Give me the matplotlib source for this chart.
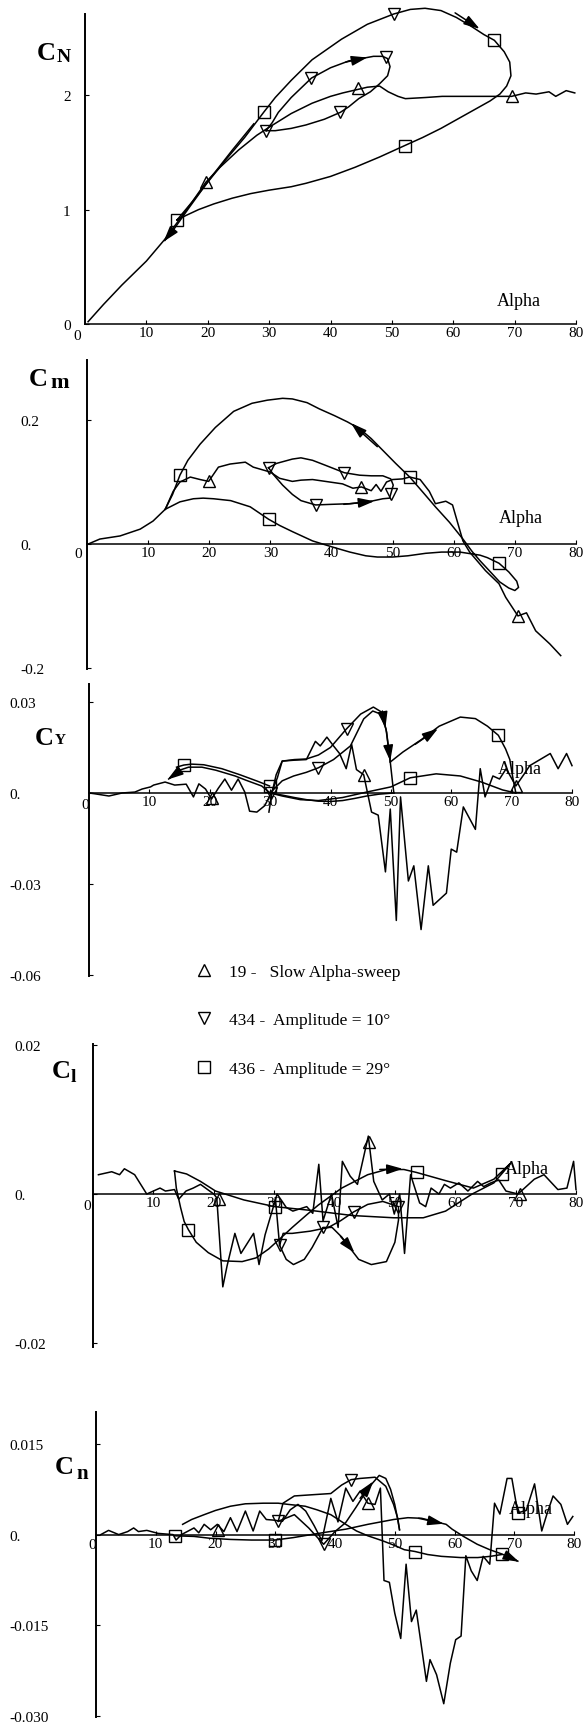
import matplotlib
matplotlib.use("Agg")
import matplotlib.pyplot as plt
from matplotlib.lines import Line2D

plt.rcParams['font.family'] = ['Liberation Serif', 'DejaVu Serif']

# ---------------- data ----------------
alpha_ticks = [10, 20, 30, 40, 50, 60, 70, 80]

# normal force C_N
nf_alpha_19 = [0.5, 3, 6, 10, 13, 15.2, 17.5, 19.7, 22, 25, 28, 30, 33.6, 37, 40, 42, 44.4, 46, 48, 49.4,
               51, 52.2, 55.5, 58.2, 62, 66.4, 69.5, 71.8, 73.5, 75.6, 76.7, 78.4, 79.8]
nf_cn_19 = [0.02, 0.17, 0.34, 0.55, 0.74, 0.9, 1.07, 1.24, 1.37, 1.52, 1.65, 1.72, 1.84, 1.93, 1.99, 2.02, 2.05,
            2.07, 2.08, 2.03, 1.99, 1.97, 1.98, 1.99, 1.99, 1.99, 1.99, 2.02, 2.01, 2.03, 1.99, 2.04, 2.02]
nf_alpha_434 = [29.5, 30.5, 31.5, 33.6, 36.9, 40, 43, 45, 47, 48.5, 49.3, 49.7, 49.3, 48, 46.5, 44.6, 43, 41.6,
                39, 36, 33.6, 31, 29.5]
nf_cn_434 = [1.69, 1.76, 1.85, 1.98, 2.15, 2.24, 2.3, 2.32, 2.34, 2.34, 2.32, 2.25, 2.17, 2.1, 2.03, 1.97, 1.9,
             1.85, 1.79, 1.74, 1.71, 1.69, 1.69]
nf_alpha_436 = [15, 17.5, 20, 23, 26, 29.1, 31, 33.6, 37, 41.8, 46, 50.3, 53, 55.4, 58, 60.5, 63, 65, 66.7, 68.3,
                69.2, 69.4, 68.7, 67.6, 66, 62, 58, 55, 52.1, 48, 44, 40, 36, 33.6, 30, 27, 24, 21, 18.5, 16.5, 15]
nf_cn_436 = [0.91, 1.07, 1.24, 1.44, 1.63, 1.85, 1.98, 2.13, 2.31, 2.49, 2.62, 2.71, 2.75, 2.76, 2.74, 2.68, 2.6,
             2.53, 2.48, 2.38, 2.29, 2.17, 2.08, 2.01, 1.95, 1.83, 1.71, 1.63, 1.56, 1.46, 1.37, 1.29, 1.23, 1.2,
             1.17, 1.14, 1.1, 1.05, 1.0, 0.95, 0.91]
nf_alpha_ret = [27.5, 24, 20.5, 17, 14.5, 13.0]
nf_cn_ret = [1.75, 1.52, 1.28, 1.02, 0.83, 0.73]
nf_tri = ([19.7, 44.4, 69.6], [1.24, 2.06, 1.99])
nf_dtri = ([29.5, 36.9, 49.0, 41.6, 50.3], [1.69, 2.15, 2.33, 1.85, 2.71])
nf_sq = ([15.0, 29.1, 66.7, 52.1], [0.91, 1.85, 2.48, 1.56])
nf_arrows = [((42.5, 2.29), (46.0, 2.33)), ((60.3, 2.72), (64.3, 2.58)), ((14.5, 0.83), (12.8, 0.72))]

# pitching moment C_m
pm_alpha_19 = [0.2, 2.1, 5.4, 8.7, 10.8, 12.8, 14.1, 15.2, 16.9, 18.5, 19.9, 21.5, 23.4, 25.9, 27.2, 30, 31.5,
               33.6, 35, 36.9, 39, 41.8, 43.5, 44.9, 46.5, 47.3, 48.1, 49, 50, 51.6, 52.8, 54.5, 56, 57, 58.7,
               59.8, 61.5, 62.6, 65.2, 67.4, 68.5, 70.5, 71.9, 73.4, 75.7, 77.5]
pm_cm_19 = [0.0, 0.008, 0.013, 0.024, 0.037, 0.056, 0.085, 0.1, 0.108, 0.104, 0.101, 0.124, 0.129, 0.132, 0.124,
            0.116, 0.106, 0.101, 0.103, 0.104, 0.101, 0.097, 0.09, 0.092, 0.086, 0.096, 0.085, 0.1, 0.104, 0.105,
            0.108, 0.104, 0.085, 0.065, 0.069, 0.063, 0.005, -0.013, -0.043, -0.064, -0.086, -0.116, -0.111,
            -0.14, -0.161, -0.18]
pm_alpha_434 = [29.7, 31, 33.6, 35, 36.9, 39, 42.1, 44.6, 46.5, 48.4, 49.7, 50.1, 49.7, 49.5, 48.4, 46, 43, 40,
                37.4, 35, 33.6, 32, 30.5, 29.7]
pm_cm_434 = [0.123, 0.13, 0.137, 0.139, 0.135, 0.127, 0.115, 0.111, 0.11, 0.11, 0.105, 0.095, 0.081, 0.074,
             0.073, 0.068, 0.065, 0.064, 0.063, 0.07, 0.08, 0.095, 0.112, 0.123]
pm_alpha_436 = [12.8, 14, 15.2, 16.5, 18.5, 21, 24, 27, 29.5, 32, 33.6, 36, 38, 40.5, 42.6, 44.6, 46.5, 48.5,
                50.5, 52.8, 55, 57, 59.3, 61.5, 63, 64.3, 66, 67.5, 69, 70, 70.6, 70.3, 69, 67.4, 65.5, 64.3, 61,
                58, 55.4, 52.5, 50, 47.5, 45.6, 43, 40.2, 36.9, 33.6, 31.5, 29.7, 26.7, 23.5, 20.7, 19, 17.4,
                15.2, 14, 12.8]
pm_cm_436 = [0.056, 0.08, 0.111, 0.135, 0.161, 0.188, 0.214, 0.227, 0.232, 0.235, 0.234, 0.228, 0.218, 0.207,
             0.197, 0.186, 0.17, 0.15, 0.13, 0.108, 0.083, 0.06, 0.035, 0.008, -0.012, -0.027, -0.045, -0.061,
             -0.071, -0.075, -0.07, -0.06, -0.045, -0.031, -0.022, -0.018, -0.013, -0.013, -0.015, -0.019,
             -0.021, -0.021, -0.019, -0.013, -0.005, 0.005, 0.02, 0.03, 0.04, 0.06, 0.07, 0.073, 0.074, 0.073,
             0.068, 0.062, 0.056]
pm_tri = ([19.9, 44.9, 70.5], [0.101, 0.092, -0.116])
pm_dtri = ([29.7, 42.1, 49.7, 37.4], [0.123, 0.115, 0.081, 0.063])
pm_sq = ([15.2, 29.7, 52.8, 67.4], [0.111, 0.04, 0.108, -0.031])
pm_arrows = [((47.5, 0.157), (43.2, 0.195)), ((42.0, 0.064), (47.0, 0.069))]

# side force C_Y
sf_alpha_19 = [0.1, 3.3, 5.5, 7.6, 8.8, 10.2, 10.7, 12.6, 14.2, 16.1, 17.3, 18.2, 19.3, 20.3, 21.4, 22.5, 23.6,
               24.7, 25.8, 26.6, 27.8, 29.1, 30.2, 31.2, 32, 34, 36, 37.5, 38.3, 39.4, 40.5, 41.5, 42.6, 43.5,
               44.3, 45.5, 46.8, 47.9, 49.1, 49.9, 50.9, 51.6, 52.9, 53.8, 55, 56.2, 57, 59.2, 60, 60.9, 62, 64,
               64.8, 65.6, 66.9, 68, 69.1, 70.7, 72, 73, 74.7, 76.4, 77.7, 79.1, 80]
sf_cy_19 = [0.0, -0.001, 0.0, 0.0003, 0.0013, 0.002, 0.0026, 0.0036, 0.0026, 0.0029, -0.0013, 0.003, 0.0013,
            -0.002, 0.0015, 0.0046, 0.0009, 0.0046, 0.0003, -0.006, -0.0063, -0.0042, 0.0, 0.005, 0.0105,
            0.0108, 0.011, 0.017, 0.0155, 0.0184, 0.0155, 0.013, 0.008, 0.016, 0.0077, 0.006, -0.0063, -0.0073,
            -0.026, -0.0053, -0.042, -0.0013, -0.029, -0.024, -0.045, -0.024, -0.037, -0.033, -0.0185, -0.0195,
            -0.0046, -0.012, 0.008, -0.0013, 0.0056, 0.0046, 0.008, 0.0023, 0.006, 0.009, 0.011, 0.013, 0.008,
            0.013, 0.009]
sf_alpha_434a = [29.8, 30.3, 31, 32, 34, 36, 38, 40, 42.6, 45, 47.1, 48.5, 48.9, 49.3, 49.6, 49.9]
sf_cy_434a = [-0.0063, 0.0, 0.006, 0.0105, 0.011, 0.0112, 0.0125, 0.015, 0.021, 0.026, 0.0283, 0.0266, 0.0234,
              0.02, 0.015, 0.0102]
sf_alpha_434b = [30, 32, 33.9, 36, 38, 40.5, 43.3, 45.5, 47, 48.3, 49.2, 49.9, 50.3, 50.5]
sf_cy_434b = [0.0, 0.004, 0.0056, 0.0068, 0.0083, 0.011, 0.0155, 0.0244, 0.027, 0.026, 0.021, 0.0102, 0.003, 0.0]
sf_alpha_434c = [50.5, 48, 46, 44, 42, 40, 38, 36, 34, 32, 30]
sf_cy_434c = [0.0, -0.0004, -0.001, -0.0018, -0.0025, -0.0028, -0.0027, -0.0022, -0.0015, -0.0007, 0.0]
sf_alpha_436a = [49.9, 52, 55, 58, 61.5, 64, 66, 67.8, 69, 69.7, 70.2, 70.7]
sf_cy_436a = [0.0102, 0.0135, 0.0175, 0.022, 0.025, 0.0245, 0.022, 0.019, 0.0145, 0.011, 0.005, 0.0]
sf_alpha_436b = [70.7, 68.5, 65, 61.5, 57.5, 53.2, 50, 46, 42, 38, 35, 32, 30, 28.6, 26, 24.2, 21, 18.7, 16.5,
                 15, 13.2]
sf_cy_436b = [0.0, 0.001, 0.0036, 0.0056, 0.0063, 0.005, 0.002, 0.0003, -0.0015, -0.0025, -0.0022, -0.001, 0.0,
              0.0023, 0.0042, 0.0056, 0.0075, 0.0085, 0.0085, 0.0075, 0.0046]
sf_alpha_436c = [29.9, 28, 25, 22, 19, 17, 15.7, 14.5]
sf_cy_436c = [0.0023, 0.0038, 0.006, 0.008, 0.0093, 0.0095, 0.0092, 0.0085]
sf_tri = ([20.3, 45.5, 70.8], [-0.0015, 0.006, 0.0022])
sf_dtri = ([30.2, 38.0, 42.7], [0.0, 0.0083, 0.021])
sf_sq = ([15.7, 29.9, 53.2, 67.8], [0.0092, 0.0023, 0.005, 0.019])
sf_arrows = [((54.0, 0.016), (57.8, 0.0212)), ((48.6, 0.027), (49.1, 0.0215)),
             ((49.6, 0.015), (49.9, 0.0105)), ((15.0, 0.0072), (13.0, 0.0044))]

# rolling moment C_l
rm_alpha_19 = [0.9, 3.1, 4.4, 5.2, 6.9, 8.9, 11.1, 12, 13.5, 14.2, 15.4, 16.6, 17.8, 20, 20.5, 21.5, 22.2, 23.5,
               24.5, 26.6, 27.5, 28.5, 30.5, 32, 33.1, 35.4, 36.4, 37.4, 38.1, 39.5, 40.6, 41.3, 42.6, 43.8,
               45.6, 46.5, 47.9, 49.1, 49.9, 50.8, 51.6, 52.6, 54.1, 55.1, 56, 57.3, 58.2, 59.2, 60.6, 62.1,
               63.7, 64.7, 65.9, 67.2, 68.4, 70.4, 73.1, 74.7, 77, 78.5, 79.6, 80]
rm_cl_19 = [0.0026, 0.003, 0.0026, 0.0034, 0.0026, 0.0, 0.0008, 0.0004, 0.0006, -0.0007, 0.0004, 0.0008, 0.0013,
            0.0, -0.0005, -0.0125, -0.0097, -0.0053, -0.008, -0.0053, -0.0095, -0.0055, 0.0, -0.0018, -0.0023,
            -0.0017, -0.0026, 0.004, -0.0036, 0.0, -0.0045, 0.0044, 0.0024, 0.0013, 0.0078, 0.0017, -0.0008,
            0.0, -0.0027, 0.0, -0.008, 0.0026, -0.0012, -0.0017, 0.0008, 0.0, 0.0013, 0.0008, 0.0015, 0.0004,
            0.0017, 0.001, 0.0015, 0.0019, 0.0004, 0.0, 0.002, 0.0026, 0.0006, 0.0008, 0.0044, 0.0006]
rm_alpha_434 = [30.2, 30.9, 32, 33.2, 35, 36.3, 38.1, 39.6, 41.2, 42.4, 44, 46.1, 48.6, 50, 50.6, 50.6, 48, 45.5,
                43.2, 41, 39, 36, 33, 31.5, 30.9]
rm_cl_434 = [-0.0005, -0.0069, -0.0088, -0.0095, -0.0088, -0.0072, -0.0045, -0.0045, -0.0058, -0.0071, -0.0088,
             -0.0095, -0.0091, -0.0065, -0.0035, -0.0017, -0.001, -0.0014, -0.0024, -0.0036, -0.0045, -0.005,
             -0.0053, -0.0053, -0.0069]
rm_alpha_436 = [13.5, 13.8, 14.5, 15.1, 15.8, 17.1, 19.1, 21.5, 24.7, 27, 29.1, 31, 33, 35.4, 37.3, 41.2, 45.5,
                48.6, 51.5, 53.6, 58.4, 63, 66.4, 69.1, 68, 66.4, 62.8, 58.4, 54.7, 49.8, 43, 36, 30.1, 25, 20.3,
                17.8, 15.5, 13.5]
rm_cl_436 = [0.0031, 0.0008, -0.0018, -0.0037, -0.0048, -0.0065, -0.0079, -0.009, -0.0091, -0.0086, -0.0074,
             -0.006, -0.0045, -0.0028, -0.0015, 0.0008, 0.0026, 0.0033, 0.0033, 0.0029, 0.0018, 0.0008, 0.002,
             0.0041, 0.003, 0.0015, 0.0, -0.0023, -0.0032, -0.0032, -0.0029, -0.0022, -0.0017, -0.0008, 0.0004,
             0.0017, 0.0027, 0.0031]
rm_tri = ([20.8, 45.7, 70.7], [-0.0007, 0.0070, 0.0])
rm_dtri = ([30.9, 38.1, 43.2, 50.6], [-0.0069, -0.0045, -0.0024, -0.0017])
rm_sq = ([15.8, 30.1, 53.6, 67.7], [-0.0048, -0.0017, 0.0029, 0.0027])
rm_arrows = [((47.5, 0.0033), (51.3, 0.0034)), ((41.0, -0.0057), (43.3, -0.0079))]

# yawing moment C_n
ym_alpha_19 = [0.8, 2.1, 3.8, 5.3, 6.3, 7.1, 8.5, 10.4, 12.9, 13.4, 14.3, 16.4, 17.2, 18.1, 19.2, 20.3, 21.4,
               22.5, 23.6, 25, 26.3, 27.4, 28.5, 29.7, 31.2, 32.5, 33.8, 35.1, 36.5, 37.8, 39.3, 40.5, 41.8, 43,
               44.2, 45.5, 46.7, 47.6, 48.2, 49.1, 50, 51, 51.9, 52.8, 53.6, 55.3, 55.9, 57, 58.2, 59.3, 60.2,
               61.1, 61.9, 62.8, 63.8, 64.8, 65.9, 66.7, 67.6, 68.8, 69.6, 70.6, 72, 73.4, 74.6, 75.5, 76.5, 77.8,
               78.9, 79.8]
ym_cn_19 = [0.0, 0.0007, 0.0, 0.0005, 0.0011, 0.0005, 0.0007, 0.0002, 0.0, -0.0009, 0.0, 0.0011, 0.0003, 0.0017,
            0.0008, 0.0017, 0.0005, 0.0028, 0.0005, 0.0039, 0.0006, 0.0039, 0.0025, 0.0024, 0.0022, 0.0041,
            0.005, 0.0039, 0.0015, -0.001, 0.006, 0.0021, 0.0077, 0.0055, 0.0072, 0.0052, 0.005, 0.0077,
            -0.0076, -0.0079, -0.013, -0.0172, -0.0049, -0.0144, -0.0125, -0.0243, -0.0207, -0.0232, -0.028,
            -0.0213, -0.0174, -0.0168, -0.0035, -0.006, -0.0076, -0.0036, -0.0049, 0.0052, 0.0034, 0.0093,
            0.0093, 0.0036, 0.004, 0.0084, 0.0006, 0.0035, 0.0064, 0.005, 0.0017, 0.003]
ym_alpha_434a = [30.5, 31.3, 33.2, 36.2, 39.3, 41.1, 42.7, 44.2, 46.7, 48.5, 49.8, 50.5, 50.8]
ym_cn_434a = [0.0022, 0.0052, 0.0064, 0.0066, 0.0068, 0.0082, 0.0091, 0.0093, 0.0095, 0.008, 0.005, 0.0027, 0.0008]
ym_alpha_434b = [30.5, 33.2, 35.6, 38.1, 40, 41.8, 43.5, 44.6, 46, 47.4, 48.5, 49.3, 50, 50.4, 50.8]
ym_cn_434b = [0.0022, 0.0033, 0.0011, -0.0016, 0.0005, 0.002, 0.0045, 0.0062, 0.0082, 0.0098, 0.0093, 0.0075,
              0.005, 0.003, 0.0008]
ym_alpha_436a = [14.5, 16, 18.1, 20, 22.5, 25, 28, 30.5, 32.2, 35, 37, 39.3, 41.8, 43.6, 45.5, 47.9, 50, 51.6,
                 53.4, 55.5, 57.8, 61, 63.9, 66, 67.9]
ym_cn_436a = [0.0017, 0.0025, 0.0033, 0.004, 0.0047, 0.0051, 0.0052, 0.0052, 0.005, 0.0047, 0.0041, 0.0033,
              0.0017, 0.0006, -0.0002, -0.001, -0.0018, -0.0025, -0.0028, -0.0033, -0.0036, -0.0038, -0.0038,
              -0.0036, -0.0033]
ym_alpha_436b = [13.2, 16.4, 19, 22.5, 26, 29.9, 33, 36, 38.5, 41.8, 45.5, 49.8, 52.2, 54.5, 56.5, 58.6, 59.6,
                 61.5, 63.8, 65.9, 67.9, 69.3, 70.6]
ym_cn_436b = [-0.0002, -0.0003, -0.0006, -0.0008, -0.0009, -0.0009, -0.0005, 0.0, 0.0004, 0.0009, 0.0017,
              0.0025, 0.0028, 0.0027, 0.0022, 0.0017, 0.0009, -0.0003, -0.0016, -0.0025, -0.0032, -0.0038, -0.0044]
ym_tri = ([20.5, 45.5], [0.0008, 0.0052])
ym_dtri = ([30.5, 38.1, 42.7], [0.0022, -0.0016, 0.0091])
ym_sq = ([13.2, 29.9, 53.4, 67.9, 70.6], [-0.0002, -0.0009, -0.0028, -0.0032, 0.0036])
ym_arrows = [((54.0, 0.0027), (58.2, 0.0018)), ((44.2, 0.006), (46.4, 0.0088)), ((69.3, -0.0038), (70.8, -0.0045))]

legend_labels = ["19 -   Slow Alpha-sweep", "434 -  Amplitude = 10°", "436 -  Amplitude = 29°"]

# ---------------- figure ----------------
W, H = 584, 1724
fig = plt.figure(figsize=(W / 100, H / 100), dpi=100)


def px(x, y):
    return x / W, 1 - y / H


def make_axes(x0, x80, ytop, ybot, ylim, yticks, ylabels, ylab_left):
    ax = fig.add_axes([x0 / W, 1 - ybot / H, (x80 - x0) / W, (ybot - ytop) / H])
    ax.set_xlim(0, 80)
    ax.set_ylim(*ylim)
    ax.patch.set_visible(False)
    ax.spines['top'].set_visible(False)
    ax.spines['right'].set_visible(False)
    ax.spines['bottom'].set_position(('data', 0))
    ax.spines['left'].set_linewidth(1.4)
    ax.spines['bottom'].set_linewidth(1.1)
    ax.set_xticks(alpha_ticks)
    ax.set_xticklabels([str(t) for t in alpha_ticks])
    ax.set_yticks(yticks)
    ax.set_yticklabels(ylabels)
    ax.tick_params(axis='x', direction='in', length=3, width=0.8, pad=1.5, labelsize=11)
    ax.tick_params(axis='y', direction='in', length=3, width=0.8, pad=(x0 - ylab_left) * 0.72, labelsize=11)
    for lab in ax.get_yticklabels():
        lab.set_ha('left')
    return ax


def draw(ax, curves, tri, dtri, sq, arrows):
    for a, c in curves:
        ax.plot(a, c, color='k', lw=1.1, clip_on=False)
    for pts, m, ms in ((tri, '^', 9), (dtri, 'v', 9), (sq, 's', 8.5)):
        ax.plot(pts[0], pts[1], ls='none', marker=m, ms=ms, mfc='none', mec='k', mew=1.0, clip_on=False)
    for tail, head in arrows:
        ax.annotate('', xy=head, xytext=tail,
                    arrowprops=dict(arrowstyle='-|>,head_length=0.8,head_width=0.25', color='k', lw=1.1,
                                    shrinkA=0, shrinkB=0, mutation_scale=12))


def name(cx, cy, sub, sx, sy, subsize):
    fig.text(*px(cx, cy), 'C', fontsize=19, fontweight='bold', ha='left', va='center')
    fig.text(*px(sx, sy), sub, fontsize=subsize, fontweight='bold', ha='left', va='center')


# C_N
ax = make_axes(85, 576, 15, 325, (0, 2.71), [0, 1, 2], ['0', '1', '2'], 63)
draw(ax, [(nf_alpha_19, nf_cn_19), (nf_alpha_434, nf_cn_434), (nf_alpha_436, nf_cn_436),
          (nf_alpha_ret, nf_cn_ret)], nf_tri, nf_dtri, nf_sq, nf_arrows)
name(37, 53, 'N', 57, 58, 14)
fig.text(*px(519, 302), 'Alpha', fontsize=13, ha='center', va='center')
fig.text(*px(77, 336), '0', fontsize=11, ha='center', va='center')

# C_m
ax = make_axes(87, 576, 361, 670, (-0.2016, 0.2968), [-0.2, 0, 0.2], ['-0.2', '0.', '0.2'], 20)
draw(ax, [(pm_alpha_19, pm_cm_19), (pm_alpha_434, pm_cm_434), (pm_alpha_436, pm_cm_436)],
     pm_tri, pm_dtri, pm_sq, pm_arrows)
name(29, 379, 'm', 50, 383, 16)
fig.text(*px(521, 519), 'Alpha', fontsize=13, ha='center', va='center')
fig.text(*px(78, 554), '0', fontsize=11, ha='center', va='center')

# C_Y
ax = make_axes(89, 572, 685, 977, (-0.0603, 0.0359), [-0.06, -0.03, 0, 0.03],
               ['-0.06', '-0.03', '0.', '0.03'], 9)
draw(ax, [(sf_alpha_19, sf_cy_19), (sf_alpha_434a, sf_cy_434a), (sf_alpha_434b, sf_cy_434b),
          (sf_alpha_434c, sf_cy_434c), (sf_alpha_436a, sf_cy_436a), (sf_alpha_436b, sf_cy_436b),
          (sf_alpha_436c, sf_cy_436c)], sf_tri, sf_dtri, sf_sq, sf_arrows)
name(35, 739, 'Y', 55, 741, 11)
fig.text(*px(520, 770), 'Alpha', fontsize=13, ha='center', va='center')
fig.text(*px(85, 806), '0', fontsize=11, ha='center', va='center')

# C_l
ax = make_axes(93, 576, 1045, 1348, (-0.0206, 0.0202), [-0.02, 0, 0.02], ['-0.02', '0.', '0.02'], 14)
draw(ax, [(rm_alpha_19, rm_cl_19), (rm_alpha_434, rm_cl_434), (rm_alpha_436, rm_cl_436)],
     rm_tri, rm_dtri, rm_sq, rm_arrows)
name(52, 1071, 'l', 71, 1077, 14)
fig.text(*px(527, 1170), 'Alpha', fontsize=13, ha='center', va='center')
fig.text(*px(87, 1207), '0', fontsize=11, ha='center', va='center')

# C_n
ax = make_axes(96, 574, 1413, 1718, (-0.0302, 0.0203), [-0.03, -0.015, 0, 0.015],
               ['-0.030', '-0.015', '0.', '0.015'], 9)
draw(ax, [(ym_alpha_19, ym_cn_19), (ym_alpha_434a, ym_cn_434a), (ym_alpha_434b, ym_cn_434b),
          (ym_alpha_436a, ym_cn_436a), (ym_alpha_436b, ym_cn_436b)], ym_tri, ym_dtri, ym_sq, ym_arrows)
name(55, 1468, 'n', 76, 1474, 15)
fig.text(*px(531, 1510), 'Alpha', fontsize=13, ha='center', va='center')
fig.text(*px(92, 1546), '0', fontsize=11, ha='center', va='center')

# legend
handles = [Line2D([], [], ls='none', marker=m, ms=9, mfc='none', mec='k', mew=1.0) for m in ('^', 'v', 's')]
fig.legend(handles, legend_labels, loc='upper left', bbox_to_anchor=px(195, 965), frameon=False,
           fontsize=12.5, handlelength=1.0, handletextpad=0.95, labelspacing=1.85, borderpad=0,
           borderaxespad=0)

fig.savefig('out.png', dpi=100)
